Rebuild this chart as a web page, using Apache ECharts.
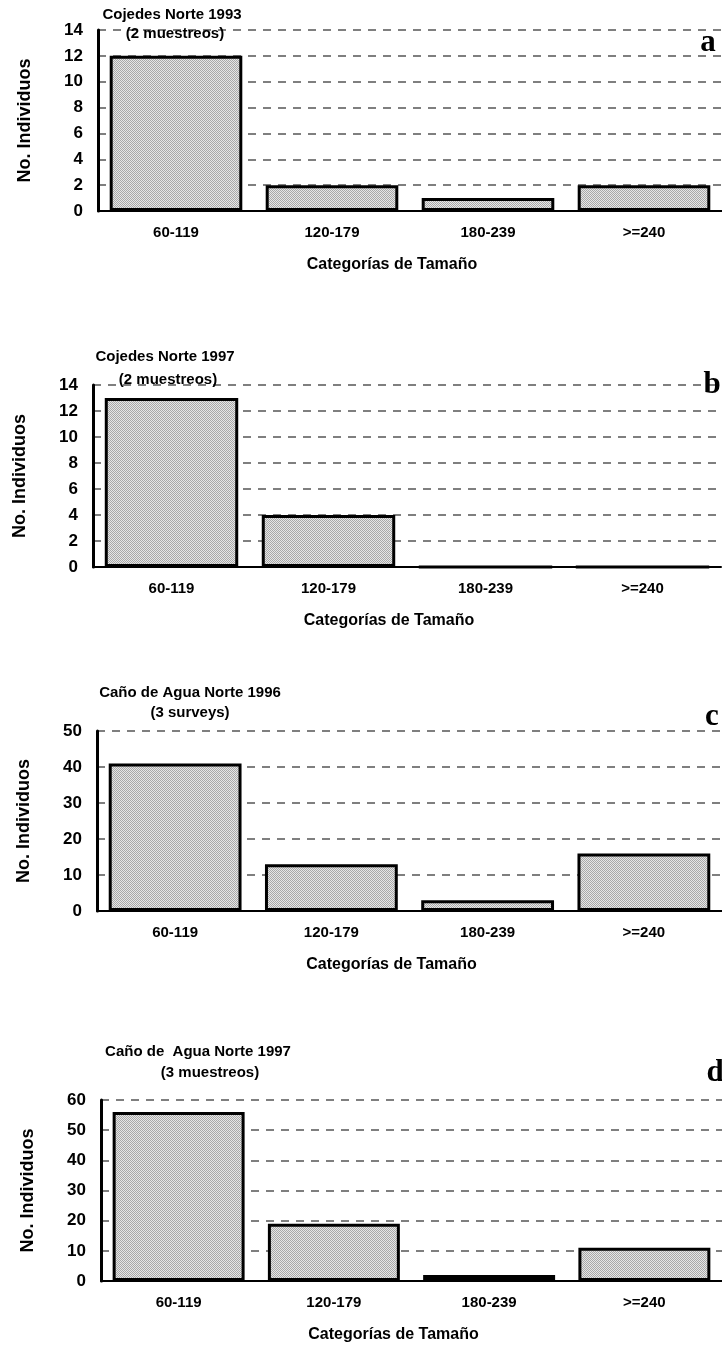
<!DOCTYPE html>
<html>
<head>
<meta charset="utf-8">
<style>
  html, body { margin: 0; padding: 0; background: #fff; }
  #chart { width: 722px; height: 1347px; }
</style>
<script src="https://cdn.jsdelivr.net/npm/echarts@6/dist/echarts.min.js"></script>
</head>
<body>
<div id="chart"></div>
<script>
// Size classes (mm) shared by every panel
const categories = ['60-119', '120-179', '180-239', '>=240'];

// Individuals counted per size class
const cojedes1993 = [12, 2, 1, 2];
const cojedes1997 = [13, 4, 0, 0];
const canoAgua1996 = [41, 13, 3, 16];
const canoAgua1997 = [56, 19, 2, 11];

const panelTitles = ['Cojedes Norte 1993', 'Cojedes Norte 1997', 'Caño de Agua Norte 1996', 'Caño de  Agua Norte 1997'];
const panelSubtitles = ['(2 muestreos)', '(2 muestreos)', '(3 surveys)', '(3 muestreos)'];
const panelLetters = ['a', 'b', 'c', 'd'];
const yMax = [14, 14, 50, 60];
const yStep = [2, 2, 10, 10];

const yAxisName = 'No. Individuos';
const xAxisName = 'Categorías de Tamaño';

// Stippled grey fill for the bars
function stipple() {
  const c = document.createElement('canvas');
  c.width = 2; c.height = 2;
  const g = c.getContext('2d');
  g.fillStyle = '#e6e6e6'; g.fillRect(0, 0, 2, 2);
  g.fillStyle = '#a8a8a8'; g.fillRect(0, 0, 1, 1); g.fillRect(1, 1, 1, 1);
  return c;
}
const fill = { image: stipple(), repeat: 'repeat' };

const series = [cojedes1993, cojedes1997, canoAgua1996, canoAgua1997];

// Panel placement
const layout = [
  { left: 98, top: 30, width: 628, height: 181, title: [172, 7], sub: [175, 26], letter: [708, 27] },
  { left: 93, top: 385, width: 628, height: 182, title: [165, 349], sub: [168, 372], letter: [712, 369] },
  { left: 97, top: 731, width: 628, height: 180, title: [190, 685], sub: [190, 705], letter: [712, 701] },
  { left: 101, top: 1100, width: 632, height: 181, title: [198, 1044], sub: [210, 1065], letter: [715, 1057] }
];

const font = '"Liberation Sans", Arial, sans-serif';
const grids = [], xAxes = [], yAxes = [], seriesList = [], titles = [];

layout.forEach((L, i) => {
  grids.push({ left: L.left, top: L.top, width: L.width, height: L.height, containLabel: false });
  xAxes.push({
    type: 'category', gridIndex: i, data: categories,
    axisLine: { lineStyle: { color: '#000', width: 2 } },
    axisTick: { show: false },
    axisLabel: { color: '#000', fontFamily: font, fontWeight: 'bold', fontSize: 15, margin: 14 },
    name: xAxisName, nameLocation: 'middle', nameGap: 46,
    nameTextStyle: { color: '#000', fontFamily: font, fontWeight: 'bold', fontSize: 16, padding: [0, 36, 0, 0] }
  });
  yAxes.push({
    type: 'value', gridIndex: i, min: 0, max: yMax[i], interval: yStep[i],
    axisLine: { show: true, lineStyle: { color: '#000', width: 3 } },
    axisTick: { show: false },
    axisLabel: { color: '#000', fontFamily: font, fontWeight: 'bold', fontSize: 17, margin: 15 },
    splitLine: { show: true, lineStyle: { color: '#555', width: 1.5, type: [8, 7] } },
    name: yAxisName, nameLocation: 'middle', nameGap: 64, nameRotate: 90,
    nameTextStyle: { color: '#000', fontFamily: font, fontWeight: 'bold', fontSize: 18 }
  });
  seriesList.push({
    type: 'bar', xAxisIndex: i, yAxisIndex: i, data: series[i],
    barCategoryGap: '15%',
    itemStyle: { color: fill, borderColor: '#000', borderWidth: 3 },
    silent: true, animation: false
  });
  titles.push({
    text: panelTitles[i], left: L.title[0], top: L.title[1], textAlign: 'center',
    textStyle: { color: '#000', fontFamily: font, fontWeight: 'bold', fontSize: 15 }, padding: 0
  });
  titles.push({
    text: panelSubtitles[i], left: L.sub[0], top: L.sub[1], textAlign: 'center',
    textStyle: { color: '#000', fontFamily: font, fontWeight: 'bold', fontSize: 15 }, padding: 0
  });
  titles.push({
    text: panelLetters[i], left: L.letter[0], top: L.letter[1], textAlign: 'center',
    textStyle: { color: '#000', fontFamily: '"Liberation Serif", "Times New Roman", serif', fontWeight: 'bold', fontSize: 31 }, padding: 0
  });
});

const chart = echarts.init(document.getElementById('chart'), null, { renderer: 'canvas' });
chart.setOption({
  animation: false,
  backgroundColor: '#fff',
  title: titles,
  grid: grids,
  xAxis: xAxes,
  yAxis: yAxes,
  series: seriesList
});
</script>
</body>
</html>
